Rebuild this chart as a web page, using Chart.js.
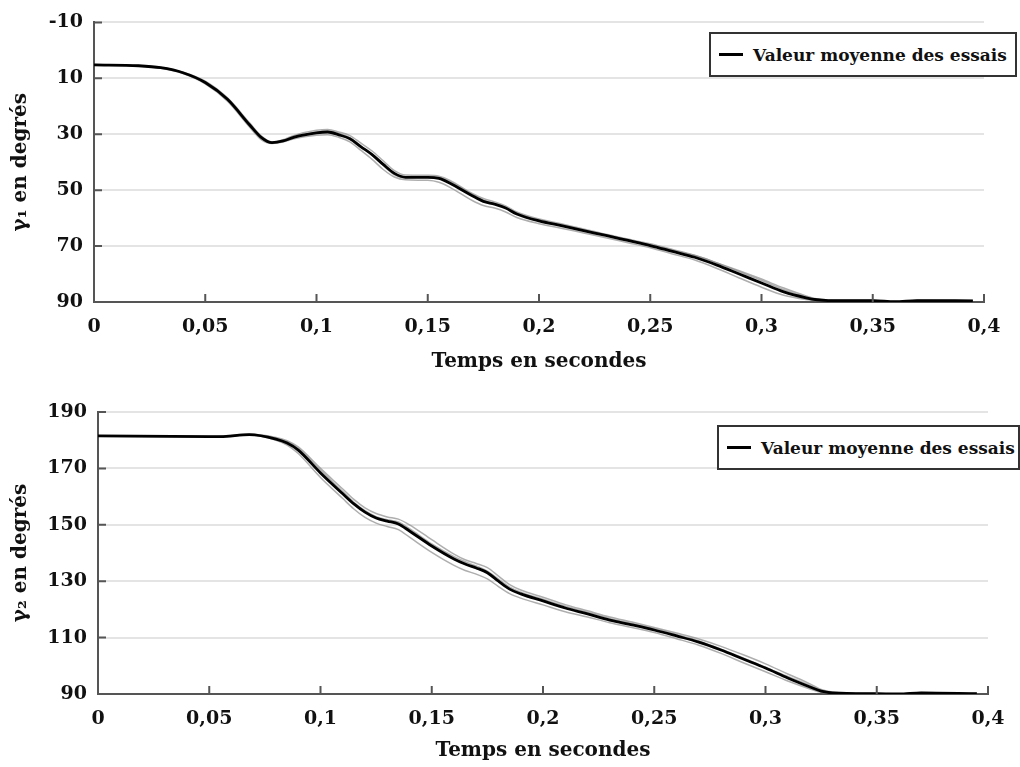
<!DOCTYPE html>
<html>
<head>
<meta charset="utf-8">
<script src="https://cdn.jsdelivr.net/npm/chart.js@4.4.0/dist/chart.umd.min.js"></script>
<style>
  body { margin: 0; background: #fff; width: 1020px; height: 767px; position: relative; overflow: hidden; }
  canvas { position: absolute; left: 0; }
  .legend { position: absolute; box-sizing: border-box; height: 45px; border: 2px solid #333; background: #fff;
    font: bold 17px 'DejaVu Serif', serif; color: #111; display: flex; align-items: center; padding-left: 8px; white-space: nowrap; }
  .legend i { display: inline-block; width: 24px; height: 3px; background: #000; margin-right: 10px; }
</style>
</head>
<body>
<canvas id="top" width="1020" height="385" style="top:0"></canvas>
<canvas id="bottom" width="1020" height="382" style="top:385px"></canvas>
<div class="legend" style="left:709px;top:32px;width:308px"><i></i>Valeur moyenne des essais</div>
<div class="legend" style="left:717px;top:425px;width:303px"><i></i>Valeur moyenne des essais</div>
<script>
// tick values
const xTickValues = [0, 0.05, 0.1, 0.15, 0.2, 0.25, 0.3, 0.35, 0.4]
const g1TickValues = [-10, 10, 30, 50, 70, 90]
const g2TickValues = [90, 110, 130, 150, 170, 190]

// gamma 1 (top plot), time in s / angle in degrees
const g1Times = [0, 0.02, 0.03, 0.04, 0.05, 0.06, 0.07, 0.075, 0.08, 0.085, 0.09, 0.1, 0.105, 0.11, 0.115, 0.12, 0.125, 0.13, 0.135, 0.14, 0.15, 0.155, 0.16, 0.17, 0.175, 0.18, 0.185, 0.19, 0.2, 0.21, 0.22, 0.23, 0.24, 0.25, 0.26, 0.27, 0.28, 0.29, 0.3, 0.31, 0.32, 0.325, 0.33, 0.35, 0.36, 0.37, 0.395]
const g1Mean = [5.2, 5.5, 6.2, 8, 11.5, 17.5, 26.7, 31, 33, 32.4, 31, 29.5, 29.2, 30.2, 31.6, 34.5, 37.3, 40.8, 44, 45.4, 45.4, 45.8, 47.5, 52, 54, 55, 56.4, 58.5, 61, 62.7, 64.5, 66.2, 68, 69.8, 71.9, 74, 76.8, 80, 83.2, 86.4, 88.5, 89.2, 89.5, 89.5, 89.9, 89.5, 89.6]
const g1TrialA = [5.2, 5.5, 6.1, 7.8, 11, 17, 26, 30.5, 32.8, 32, 30.4, 28.6, 28.3, 29.2, 30.5, 33.2, 36, 39.5, 43, 44.6, 44.7, 45, 46.5, 51.2, 53, 54.2, 55.6, 57.8, 60.3, 62, 63.9, 65.8, 67.5, 69.2, 71.2, 73.3, 76, 79.2, 82.3, 85.6, 88.2, 89.1, 89.4, 89.4, 89.8, 89.4, 89.5]
const g1TrialB = [5.3, 5.6, 6.4, 8.3, 12, 18.2, 27.5, 31.8, 33.3, 32.8, 31.6, 30.4, 30.2, 31.1, 32.7, 35.8, 39, 42.6, 45.3, 46.3, 46.5, 47.2, 49, 53.7, 55.5, 56.4, 57.8, 59.8, 62, 63.6, 65.3, 67, 68.8, 70.6, 72.8, 75, 78, 81.4, 84.7, 87.6, 89.1, 89.5, 89.7, 89.6, 90, 89.7, 89.7]
const g1TrialC = [5.1, 5.4, 6.2, 8.1, 11.8, 17.9, 27.1, 31.3, 33.1, 32.5, 31.2, 29.2, 28.8, 29.7, 31.2, 34.2, 37.6, 41.2, 44.5, 45.5, 45.2, 45.5, 47, 51.5, 53.6, 54.8, 56.2, 58.2, 60.6, 62.4, 64.2, 66, 67.8, 69.6, 71.5, 73.4, 76, 78.8, 81.8, 85, 87.8, 88.9, 89.4, 89.5, 89.9, 89.5, 89.6]

// gamma 2 (bottom plot)
const g2Times = [0, 0.05, 0.055, 0.068, 0.08, 0.085, 0.09, 0.1, 0.11, 0.115, 0.12, 0.125, 0.13, 0.135, 0.14, 0.15, 0.16, 0.165, 0.17, 0.175, 0.18, 0.185, 0.19, 0.2, 0.21, 0.22, 0.23, 0.24, 0.25, 0.26, 0.27, 0.28, 0.29, 0.3, 0.31, 0.32, 0.325, 0.33, 0.35, 0.36, 0.37, 0.395]
const g2Mean = [181.5, 181.3, 181.3, 182, 180.4, 179, 176.5, 168.4, 161, 157.4, 154.5, 152.4, 151.3, 150.3, 147.8, 142.5, 137.9, 136.1, 134.7, 133, 130, 127.2, 125.5, 123, 120.5, 118.4, 116.2, 114.5, 112.7, 110.6, 108.4, 105.6, 102.4, 99.2, 95.7, 92.5, 91, 90.4, 90.1, 90, 90.4, 90.1]
const g2TrialA = [181.5, 181.3, 181.3, 181.9, 180, 178.3, 175.3, 166.8, 159.3, 155.6, 152.6, 150.6, 149.4, 148.3, 145.6, 140.2, 135.6, 133.8, 132.5, 130.8, 128.1, 125.6, 124, 121.6, 119.2, 117.3, 115.3, 113.6, 111.8, 109.6, 107.3, 104.4, 101.1, 97.9, 94.6, 91.8, 90.6, 90.2, 90, 90, 90.3, 90]
const g2TrialB = [181.5, 181.3, 181.4, 182.1, 181, 179.8, 177.6, 170, 162.7, 159, 156, 154, 152.8, 152, 150, 144.7, 139.6, 137.6, 136.3, 134.8, 131.8, 128.8, 126.9, 124.3, 121.7, 119.5, 117.3, 115.5, 113.6, 111.6, 109.5, 106.9, 103.9, 100.7, 97.1, 93.6, 91.6, 90.7, 90.2, 90.1, 90.5, 90.2]
const g2TrialC = [181.4, 181.2, 181.2, 182, 180.7, 179.5, 177.1, 169.3, 161.8, 158, 155, 152.9, 151.8, 151, 148.6, 143.2, 138.7, 136.9, 135.4, 133.6, 130.7, 127.9, 126.1, 123.6, 121.1, 119, 116.8, 115, 113.2, 111.1, 108.8, 105.9, 102.8, 99.5, 96.2, 93, 91.3, 90.5, 90.1, 90, 90.4, 90.1]

const tickFont = { family: "'DejaVu Serif', serif", weight: 'bold', size: 19 }
const titleFont = { family: "'DejaVu Serif', serif", weight: 'bold', size: 20 }
const axisColor = '#555'

// short tick marks pointing into the plot
const innerTicks = {
  id: 'innerTicks',
  afterDatasetsDraw(chart) {
    const { ctx, chartArea: a, scales: { x, y } } = chart
    ctx.save()
    ctx.strokeStyle = axisColor
    ctx.lineWidth = 2
    ctx.beginPath()
    x.ticks.forEach(t => {
      if (t.value === 0) return
      const px = x.getPixelForValue(t.value)
      ctx.moveTo(px, a.bottom)
      ctx.lineTo(px, a.bottom - 8)
    })
    y.ticks.forEach(t => {
      const py = y.getPixelForValue(t.value)
      ctx.moveTo(a.left, py)
      ctx.lineTo(a.left + 8, py)
    })
    ctx.stroke()
    ctx.restore()
  }
}

function pts(times, vals) {
  return times.map((t, i) => ({ x: t, y: vals[i] }))
}

function makeChart(id, times, mean, trials, yTicks, cfg) {
  const trialSets = trials.map(v => ({
    data: pts(times, v),
    borderColor: 'rgba(140,140,140,0.7)',
    borderWidth: 1.5,
    pointRadius: 0,
    cubicInterpolationMode: 'monotone'
  }))
  return new Chart(document.getElementById(id), {
    type: 'line',
    data: {
      datasets: [{
        label: 'Valeur moyenne des essais',
        data: pts(times, mean),
        borderColor: '#000',
        borderWidth: 2.8,
        pointRadius: 0,
        cubicInterpolationMode: 'monotone'
      }].concat(trialSets)
    },
    options: {
      responsive: false,
      animation: false,
      layout: { padding: cfg.padding },
      plugins: { legend: { display: false }, tooltip: { enabled: false } },
      scales: {
        x: {
          type: 'linear',
          min: 0,
          max: 0.4,
          afterBuildTicks: s => { s.ticks = xTickValues.map(v => ({ value: v })) },
          afterFit: s => { s.height = cfg.xHeight },
          grid: { display: false },
          border: { display: true, color: axisColor, width: 2 },
          ticks: {
            color: '#111',
            font: tickFont,
            padding: 6,
            maxRotation: 0,
            callback: v => v === 0 ? '0' : String(+v.toFixed(2)).replace('.', ',')
          },
          title: { display: true, text: 'Temps en secondes', color: '#111', font: titleFont, padding: 0 }
        },
        y: {
          min: yTicks[0],
          max: yTicks[yTicks.length - 1],
          reverse: cfg.reverse,
          afterBuildTicks: s => { s.ticks = yTicks.map(v => ({ value: v })) },
          afterFit: s => { s.width = cfg.yWidth },
          grid: { color: '#e4e4e4', lineWidth: 2, drawTicks: false },
          border: { display: true, color: axisColor, width: 2 },
          ticks: { color: '#111', font: tickFont, padding: 11 },
          title: { display: true, text: cfg.yTitle, color: '#111', font: titleFont, padding: 0 }
        }
      }
    },
    plugins: [innerTicks]
  })
}

makeChart('top', g1Times, g1Mean, [g1TrialA, g1TrialB, g1TrialC], g1TickValues, {
  padding: { top: 19, left: 9, right: 36, bottom: 11 },
  xHeight: 72, yWidth: 85, reverse: true, yTitle: 'γ₁ en degrés'
})
makeChart('bottom', g2Times, g2Mean, [g2TrialA, g2TrialB, g2TrialC], g2TickValues, {
  padding: { top: 27, left: 9, right: 32, bottom: 4 },
  xHeight: 69, yWidth: 89, reverse: false, yTitle: 'γ₂ en degrés'
})
</script>
</body>
</html>
